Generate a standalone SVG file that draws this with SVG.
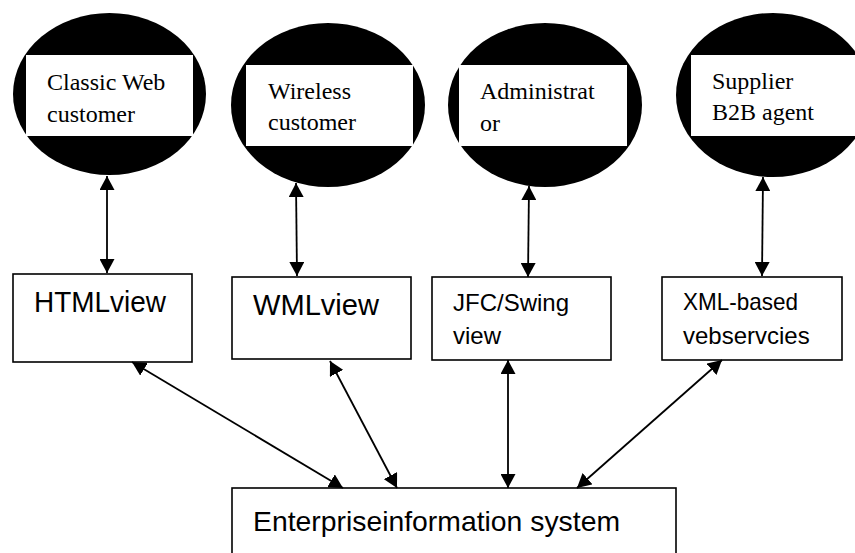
<svg xmlns="http://www.w3.org/2000/svg" width="855" height="553" viewBox="0 0 855 553">
<style>
.bg{fill:#fff}
.actor{fill:#000}
.label-bg{fill:#fff}
.serif{font-family:"Liberation Serif","Times New Roman",serif;font-size:24px;fill:#000}
.sans{font-family:"Liberation Sans",Arial,sans-serif;fill:#000}
.box{fill:#fff;stroke:#000;stroke-width:1.6}
.conn{stroke:#000;stroke-width:1.8;fill:none;marker-start:url(#ah);marker-end:url(#ah)}
</style>
<defs>
<marker id="ah" viewBox="0 0 14 15" refX="14" refY="7.5" markerWidth="14" markerHeight="15" markerUnits="userSpaceOnUse" orient="auto-start-reverse">
<path d="M0,0 L14,7.5 L0,15 z" fill="#000"/>
</marker>
</defs>
<rect class="bg" x="0" y="0" width="855" height="553"/>

<g id="classic-web-customer">
<ellipse class="actor" cx="109.5" cy="94" rx="96.5" ry="81"/>
<rect class="label-bg" x="26" y="55" width="167" height="81"/>
<text class="serif" x="47" y="90">Classic Web</text>
<text class="serif" x="47" y="122">customer</text>
</g>

<g id="wireless-customer">
<ellipse class="actor" cx="328" cy="105" rx="97" ry="82"/>
<rect class="label-bg" x="246" y="65" width="167" height="81"/>
<text class="serif" x="268" y="99">Wireless</text>
<text class="serif" x="268" y="130">customer</text>
</g>

<g id="administrator">
<ellipse class="actor" cx="545" cy="105" rx="97" ry="82"/>
<rect class="label-bg" x="459" y="65" width="168" height="81"/>
<text class="serif" x="480" y="99">Administrat</text>
<text class="serif" x="480" y="131">or</text>
</g>

<g id="supplier-b2b-agent">
<ellipse class="actor" cx="773" cy="95" rx="97" ry="82"/>
<rect class="label-bg" x="691" y="55" width="170" height="81"/>
<text class="serif" x="712" y="89">Supplier</text>
<text class="serif" x="712" y="120">B2B agent</text>
</g>

<g id="html-view">
<rect class="box" x="13" y="274" width="179" height="88"/>
<text class="sans" x="34" y="312" font-size="29" textLength="132" lengthAdjust="spacingAndGlyphs">HTMLview</text>
</g>

<g id="wml-view">
<rect class="box" x="232" y="277" width="179" height="82"/>
<text class="sans" x="253" y="315" font-size="29" textLength="126" lengthAdjust="spacingAndGlyphs">WMLview</text>
</g>

<g id="jfc-swing-view">
<rect class="box" x="432" y="277" width="179" height="83"/>
<text class="sans" x="453" y="311" font-size="24">JFC/Swing</text>
<text class="sans" x="453" y="344" font-size="24">view</text>
</g>

<g id="xml-web-services">
<rect class="box" x="662" y="277" width="180" height="83"/>
<text class="sans" x="683" y="310" font-size="24" textLength="115" lengthAdjust="spacingAndGlyphs">XML-based</text>
<text class="sans" x="683" y="344" font-size="24">vebservcies</text>
</g>

<g id="enterprise-information-system">
<rect class="box" x="232" y="488" width="444" height="80"/>
<text class="sans" x="253" y="531" font-size="28" textLength="367" lengthAdjust="spacingAndGlyphs">Enterpriseinformation system</text>
</g>

<g id="connectors">
<line class="conn" x1="107" y1="176" x2="107" y2="273"/>
<line class="conn" x1="296" y1="183" x2="297" y2="276"/>
<line class="conn" x1="529" y1="186" x2="528" y2="277"/>
<line class="conn" x1="763" y1="177" x2="762" y2="276"/>
<line class="conn" x1="132" y1="362" x2="343" y2="488"/>
<line class="conn" x1="330" y1="361" x2="397" y2="488"/>
<line class="conn" x1="508" y1="360" x2="508" y2="488"/>
<line class="conn" x1="722" y1="360" x2="577" y2="488"/>
</g>
</svg>
